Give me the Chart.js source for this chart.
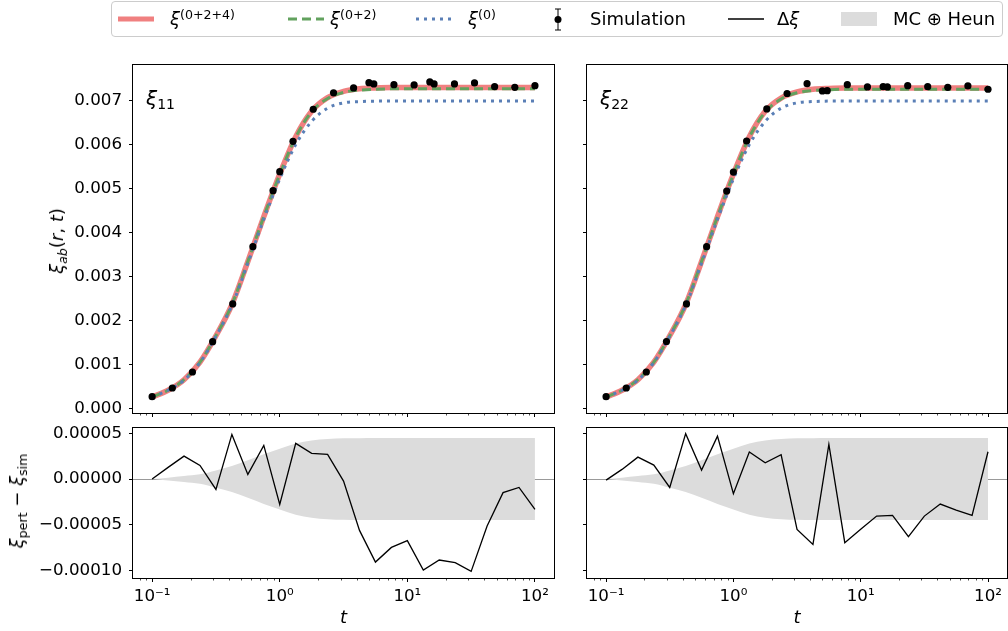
<!DOCTYPE html>
<html>
<head>
<meta charset="utf-8">
<script src="https://cdn.jsdelivr.net/npm/chart.js@4.4.1/dist/chart.umd.min.js"></script>
<style>
  body { margin: 0; background: #fff; }
  #fig { position: relative; width: 1008px; height: 631px; overflow: hidden; font-family: "DejaVu Sans", sans-serif; color: #000; }
  #fig canvas { position: absolute; left: 0; top: 0; }
  .lbl { position: absolute; white-space: nowrap; line-height: 1; }
  .ylab { font-size: 18px; transform: translate(-50%, -50%) rotate(-90deg); }
  .panel { font-size: 20px; }
  sub { font-size: 70%; vertical-align: -0.3em; line-height: 0; }
  sup { font-size: 70%; vertical-align: 0.5em; line-height: 0; }
  #legend { position: absolute; left: 111px; top: 1px; width: 890px; height: 34px; border: 1px solid #ccc; border-radius: 4px; background: #fff; font-size: 18px; }
  #legend .it { position: absolute; top: 0; height: 34px; line-height: 34px; white-space: nowrap; }
  #legend svg { position: absolute; top: 0; }
</style>
</head>
<body>
<div id="fig">
  <canvas id="c11" width="1008" height="631"></canvas>
  <canvas id="c22" width="1008" height="631"></canvas>
  <canvas id="d11" width="1008" height="631"></canvas>
  <canvas id="d22" width="1008" height="631"></canvas>

  <div class="lbl panel" style="left:146px;top:88px"><i>ξ</i><sub>11</sub></div>
  <div class="lbl panel" style="left:600px;top:88px"><i>ξ</i><sub>22</sub></div>
  <div class="lbl ylab" style="left:57px;top:241px"><i>ξ</i><sub><i>ab</i></sub>(<i>r</i>, <i>t</i>)</div>
  <div class="lbl ylab" style="left:17px;top:501px"><i>ξ</i><sub>pert</sub> − <i>ξ</i><sub>sim</sub></div>

  <div id="legend">
    <svg style="left:6px" width="36" height="34"><line x1="0" y1="17" x2="36" y2="17" stroke="#f08080" stroke-width="5"/></svg>
    <div class="it" style="left:58px"><i>ξ</i><sup>(0+2+4)</sup></div>
    <svg style="left:176px" width="36" height="34"><line x1="0" y1="17" x2="36" y2="17" stroke="#62a25e" stroke-width="3" stroke-dasharray="9,5"/></svg>
    <div class="it" style="left:218px"><i>ξ</i><sup>(0+2)</sup></div>
    <svg style="left:304px" width="36" height="34"><line x1="0" y1="17" x2="36" y2="17" stroke="#5a7fb6" stroke-width="3" stroke-dasharray="3,5"/></svg>
    <div class="it" style="left:356px"><i>ξ</i><sup>(0)</sup></div>
    <svg style="left:436px" width="20" height="34"><line x1="10" y1="7" x2="10" y2="28" stroke="#000" stroke-width="1"/><line x1="7" y1="7" x2="13" y2="7" stroke="#000" stroke-width="1"/><line x1="7" y1="28" x2="13" y2="28" stroke="#000" stroke-width="1"/><circle cx="10" cy="17.5" r="3.5" fill="#000"/></svg>
    <div class="it" style="left:478px">Simulation</div>
    <svg style="left:616px" width="36" height="34"><line x1="0" y1="17" x2="36" y2="17" stroke="#000" stroke-width="1.3"/></svg>
    <div class="it" style="left:665px">Δ<i>ξ</i></div>
    <svg style="left:729px" width="36" height="34"><rect x="0" y="10" width="36" height="14" fill="#dcdcdc"/></svg>
    <div class="it" style="left:781px">MC ⊕ Heun</div>
  </div>
</div>

<script>
// --- data ---
const simTimes = [0.1, 0.144, 0.207, 0.298, 0.428, 0.616, 0.886, 1.0, 1.27, 1.83, 2.64, 3.79, 5.0, 5.46, 7.85, 11.3, 15.0, 16.2, 23.4, 33.6, 48.3, 69.5, 100];
const sim11 = [0.000264, 0.000462, 0.000826, 0.001516, 0.002374, 0.003678, 0.004952, 0.005385, 0.006076, 0.006805, 0.007178, 0.007290, 0.007410, 0.007381, 0.007365, 0.007358, 0.007426, 0.007381, 0.007381, 0.007403, 0.007319, 0.007305, 0.007342];
const sim22 = [0.000264, 0.000462, 0.000826, 0.001520, 0.002374, 0.003678, 0.004944, 0.005376, 0.006083, 0.006812, 0.007164, 0.007387, 0.007221, 0.007228, 0.007365, 0.007312, 0.007319, 0.007312, 0.007342, 0.007319, 0.007305, 0.007335, 0.007260];

const curveTimes = [0.1, 0.1334, 0.1778, 0.2371, 0.3162, 0.4217, 0.5623, 0.7499, 1.0, 1.334, 1.778, 2.371, 3.162, 4.217, 5.623, 7.499, 10, 13.34, 17.78, 23.71, 31.62, 42.17, 56.23, 74.99, 100];
const xi024_11 = [0.00026, 0.00041, 0.00065, 0.00105, 0.00165, 0.00236, 0.00334, 0.00436, 0.00533, 0.00618, 0.00676, 0.00707, 0.00721, 0.00727, 0.00729, 0.00730, 0.00730, 0.00730, 0.00730, 0.00730, 0.00730, 0.00730, 0.00730, 0.00730, 0.00730];
const xi02_11  = [0.00026, 0.00041, 0.00065, 0.00105, 0.00165, 0.00236, 0.00334, 0.00436, 0.00532, 0.00617, 0.00675, 0.00705, 0.00719, 0.00724, 0.00726, 0.00727, 0.00727, 0.00727, 0.00727, 0.00727, 0.00727, 0.00727, 0.00727, 0.00727, 0.00727];
const xi0_11   = [0.00026, 0.00041, 0.00064, 0.00104, 0.00164, 0.00234, 0.00330, 0.00430, 0.00522, 0.00600, 0.00653, 0.00683, 0.00695, 0.00698, 0.00699, 0.00699, 0.00699, 0.00699, 0.00699, 0.00699, 0.00699, 0.00699, 0.00699, 0.00699, 0.00699];
const xi024_22 = [0.00026, 0.00041, 0.00065, 0.00105, 0.00165, 0.00236, 0.00334, 0.00436, 0.00533, 0.00618, 0.00676, 0.00706, 0.00720, 0.00726, 0.00728, 0.00729, 0.00729, 0.00729, 0.00729, 0.00729, 0.00729, 0.00729, 0.00729, 0.00729, 0.00729];
const xi02_22  = [0.00026, 0.00041, 0.00065, 0.00105, 0.00165, 0.00236, 0.00334, 0.00436, 0.00532, 0.00617, 0.00674, 0.00704, 0.00718, 0.00723, 0.00725, 0.00726, 0.00726, 0.00726, 0.00726, 0.00726, 0.00726, 0.00726, 0.00726, 0.00726, 0.00726];
const xi0_22   = [0.00026, 0.00041, 0.00064, 0.00104, 0.00164, 0.00234, 0.00330, 0.00430, 0.00522, 0.00600, 0.00653, 0.00683, 0.00695, 0.00698, 0.00699, 0.00699, 0.00699, 0.00699, 0.00699, 0.00699, 0.00699, 0.00699, 0.00699, 0.00699, 0.00699];

const delta11 = [0, 1.28e-5, 2.51e-5, 1.50e-5, -1.12e-5, 4.88e-5, 0.51e-5, 3.68e-5, -2.76e-5, 3.90e-5, 2.81e-5, 2.70e-5, -0.22e-5, -5.60e-5, -9.06e-5, -7.46e-5, -6.72e-5, -9.93e-5, -8.84e-5, -9.13e-5, -10.08e-5, -5.13e-5, -1.48e-5, -0.91e-5, -3.31e-5];
const delta22 = [-0.11e-5, 1.06e-5, 2.40e-5, 1.53e-5, -0.91e-5, 4.96e-5, 0.98e-5, 4.69e-5, -1.59e-5, 2.95e-5, 1.79e-5, 2.66e-5, -5.49e-5, -7.13e-5, 3.79e-5, -6.94e-5, -5.49e-5, -4.04e-5, -3.96e-5, -6.29e-5, -4.04e-5, -2.73e-5, -3.38e-5, -3.96e-5, 2.99e-5];
// half width of the MC (+) Heun band
const bandSigma = [0, 0.15e-5, 0.33e-5, 0.52e-5, 0.95e-5, 1.42e-5, 2.05e-5, 2.72e-5, 3.32e-5, 3.88e-5, 4.22e-5, 4.38e-5, 4.45e-5, 4.47e-5, 4.48e-5, 4.48e-5, 4.48e-5, 4.48e-5, 4.48e-5, 4.48e-5, 4.48e-5, 4.48e-5, 4.48e-5, 4.48e-5, 4.48e-5];

const xMajorTicks = [0.1, 1, 10, 100];
const xTickLabels = ['10\u207B\u00B9', '10\u2070', '10\u00B9', '10\u00B2'];
const yTopTicks = [0, 0.001, 0.002, 0.003, 0.004, 0.005, 0.006, 0.007];
const yTopLabels = ['0.000', '0.001', '0.002', '0.003', '0.004', '0.005', '0.006', '0.007'];
const yBotTicks = [-0.0001, -0.00005, 0, 0.00005];
const yBotLabels = ['\u22120.00010', '\u22120.00005', '0.00000', '0.00005'];

// --- layout ---
const W = 1008, H = 631;
const X_MIN = 0.0708, X_MAX = 141;
const TICK_FONT = { family: "'DejaVu Sans', sans-serif", size: 16.7 };

const pts = (xs, ys) => xs.map((x, i) => ({ x: x, y: ys[i] }));

const framePlugin = {
  id: 'frame',
  afterDraw(chart) {
    const { ctx, chartArea: a, scales } = chart;
    const x = scales.x;
    ctx.save();
    ctx.strokeStyle = '#000';
    // minor log ticks
    ctx.lineWidth = 0.7;
    for (let d = -2; d <= 2; d++) {
      for (let m = 2; m <= 9; m++) {
        const v = m * Math.pow(10, d);
        if (v < x.min || v > x.max) continue;
        const px = Math.round(x.getPixelForValue(v)) + 0.5;
        ctx.beginPath();
        ctx.moveTo(px, a.bottom);
        ctx.lineTo(px, a.bottom + 2.5);
        ctx.stroke();
      }
    }
    ctx.lineWidth = 1;
    ctx.strokeRect(a.left - 0.5, a.top - 0.5, a.right - a.left + 1, a.bottom - a.top + 1);
    ctx.restore();
  }
};

function makePanel(id, frame, datasets, yc, showX, showY) {
  const XH = showX ? 51 : 30, YW = 100;
  return new Chart(document.getElementById(id), {
    type: 'line',
    data: { datasets: datasets },
    options: {
      responsive: false,
      animation: false,
      devicePixelRatio: 1,
      events: [],
      layout: {
        autoPadding: false,
        padding: { left: frame.l - YW, top: frame.t, right: W - frame.r, bottom: H - frame.b - XH }
      },
      plugins: { legend: { display: false }, tooltip: { enabled: false } },
      scales: {
        x: {
          type: 'logarithmic',
          min: X_MIN, max: X_MAX,
          afterBuildTicks: s => { s.ticks = xMajorTicks.map(v => ({ value: v })); },
          afterFit: s => { s.height = XH; },
          border: { display: false },
          grid: { drawOnChartArea: false, drawTicks: true, tickLength: 4, tickColor: '#000', tickWidth: 1 },
          ticks: {
            display: showX, padding: 5, autoSkip: false, maxRotation: 0, color: '#000', font: TICK_FONT,
            callback: (v, i) => xTickLabels[i]
          },
          title: { display: showX, text: 't', color: '#000', padding: 0, font: { family: "'DejaVu Sans', sans-serif", size: 18, style: 'italic' } }
        },
        y: {
          min: yc.min, max: yc.max,
          z: yc.zero ? 1 : 0,
          afterBuildTicks: s => { s.ticks = yc.ticks.map(v => ({ value: v })); },
          afterFit: s => { s.width = YW; },
          border: { display: false },
          grid: {
            drawOnChartArea: !!yc.zero,
            color: c => (yc.zero && c.tick && c.tick.value === 0) ? '#999999' : 'rgba(0,0,0,0)',
            lineWidth: 1,
            drawTicks: true, tickLength: 4, tickColor: '#000', tickWidth: 1
          },
          ticks: {
            display: showY, padding: 7, color: '#000', font: TICK_FONT,
            callback: (v, i) => yc.labels[i]
          }
        }
      }
    },
    plugins: [framePlugin]
  });
}

function topSets(sim, r, g, b) {
  return [
    { data: pts(simTimes, sim), showLine: false, pointRadius: 3.6, pointBackgroundColor: '#000', pointBorderWidth: 0, order: 0 },
    { data: pts(curveTimes, b), borderColor: '#5a7fb6', borderWidth: 3, borderDash: [3, 5], pointRadius: 0, cubicInterpolationMode: 'monotone', order: 1 },
    { data: pts(curveTimes, g), borderColor: '#62a25e', borderWidth: 3, borderDash: [9, 5], pointRadius: 0, cubicInterpolationMode: 'monotone', order: 2 },
    { data: pts(curveTimes, r), borderColor: '#f08080', borderWidth: 5.5, pointRadius: 0, cubicInterpolationMode: 'monotone', order: 3 }
  ];
}

function botSets(delta) {
  return [
    { data: pts(curveTimes, bandSigma), borderWidth: 0, pointRadius: 0, fill: '+1', backgroundColor: '#dcdcdc', cubicInterpolationMode: 'monotone', order: 3 },
    { data: pts(curveTimes, bandSigma.map(s => -s)), borderWidth: 0, pointRadius: 0, fill: false, cubicInterpolationMode: 'monotone', order: 4 },
    { data: pts(curveTimes, delta), borderColor: '#000', borderWidth: 1.3, pointRadius: 0, tension: 0, fill: false, order: 0 }
  ];
}

const yTop = { min: -0.000107, max: 0.007812, ticks: yTopTicks, labels: yTopLabels };
const yBot = { min: -0.000108, max: 0.0000558, ticks: yBotTicks, labels: yBotLabels, zero: true };

makePanel('c11', { l: 133, r: 554, t: 65, b: 413 }, topSets(sim11, xi024_11, xi02_11, xi0_11), yTop, false, true);
makePanel('c22', { l: 587, r: 1007, t: 65, b: 413 }, topSets(sim22, xi024_22, xi02_22, xi0_22), yTop, false, false);
makePanel('d11', { l: 133, r: 554, t: 428, b: 578 }, botSets(delta11), yBot, true, true);
makePanel('d22', { l: 587, r: 1007, t: 428, b: 578 }, botSets(delta22), yBot, true, false);
</script>
</body>
</html>
